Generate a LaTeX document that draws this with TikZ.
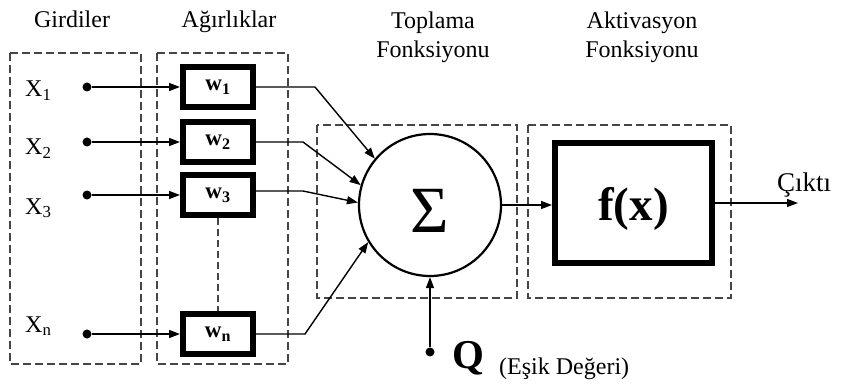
\documentclass[tikz,border=0pt]{standalone}
\usepackage{fontspec}
\setmainfont{Liberation Serif}
\usetikzlibrary{arrows.meta}
\definecolor{dashgray}{HTML}{454545}
\begin{document}
\begin{tikzpicture}[x=1pt,y=-1pt,
  lbl/.style={font=\fontsize{24}{29}\selectfont, inner sep=0pt},
  group/.style={draw=dashgray, line width=2.4pt, dash pattern=on 8pt off 4pt},
  wbox/.style={draw, line width=6pt, minimum width=70pt, minimum height=40pt,
    inner sep=0pt, font=\fontsize{23}{23}\selectfont\bfseries},
  fbox/.style={draw, line width=6pt, minimum width=157pt, minimum height=119pt,
    inner sep=0pt},
  sumnode/.style={draw, circle, line width=2.2pt, minimum size=142pt, inner sep=0pt},
  dot/.style={circle, fill, inner sep=0pt, minimum size=9pt},
  conn/.style={line width=1.4pt, -{Triangle[length=11pt,width=8pt]}},
]
\useasboundingbox (0,0) rectangle (841,385);

% group frames
\draw[group] (10,53) rectangle (141,364);
\draw[group] (157,53) rectangle (288,364);
\draw[group] (317,125) rectangle (517,298);
\draw[group] (528,125) rectangle (731,298);

% headings
\node[lbl, anchor=base] (hin) at (72,28) {Girdiler};
\node[lbl, anchor=base] (hw) at (229,28) {Ağırlıklar};
\node[lbl, anchor=base] (hsum1) at (433,29) {Toplama};
\node[lbl, anchor=base] (hsum2) at (433,58) {Fonksiyonu};
\node[lbl, anchor=base] (hact1) at (642,29) {Aktivasyon};
\node[lbl, anchor=base] (hact2) at (642,58) {Fonksiyonu};

% inputs
\node[lbl, anchor=base west] (x1) at (25,97) {X\textsubscript{1}};
\node[lbl, anchor=base west] (x2) at (25,155) {X\textsubscript{2}};
\node[lbl, anchor=base west] (x3) at (25,214) {X\textsubscript{3}};
\node[lbl, anchor=base west] (xn) at (25,332) {X\textsubscript{n}};
\node[dot] (d1) at (87,87) {};
\node[dot] (d2) at (87,142) {};
\node[dot] (d3) at (87,195) {};
\node[dot] (dn) at (87,334) {};

% weights
\node[wbox] (w1) at (218,87) {w\textsubscript{1}};
\node[wbox] (w2) at (218,142) {w\textsubscript{2}};
\node[wbox] (w3) at (218,195) {w\textsubscript{3}};
\node[wbox] (wn) at (218,334) {w\textsubscript{n}};
\draw[dashgray, line width=2.2pt, dash pattern=on 7pt off 4pt] (w3.south) -- (wn.north);

% summation and activation
\node[sumnode, label={[font=\fontsize{66}{66}\selectfont, yshift=-6pt]center:Σ}] (sum) at (430,205) {};
\node[fbox, label={[font=\fontsize{47}{47}\selectfont\bfseries, yshift=-6pt]center:f(x)}] (f) at (633.5,203) {};

% threshold
\node[dot] (qd) at (430,352) {};
\node[anchor=base west, inner sep=0pt, font=\fontsize{41}{41}\selectfont\bfseries] (q) at (452,368) {Q};
\node[lbl, anchor=base west] (qlbl) at (499,374) {(Eşik Değeri)};

% output
\node[lbl, anchor=base west, font=\fontsize{27}{27}\selectfont] (out) at (777,192) {Çıktı};
\coordinate (outend) at (798,203);

% bends of the weighted lines
\coordinate (b1) at (315,87);
\coordinate (b2) at (303,142);
\coordinate (b3) at (303,191);
\coordinate (bn) at (305,334);

% connectors
\draw[conn] (d1) -- (w1);
\draw[conn] (d2) -- (w2);
\draw[conn] (d3) -- (w3);
\draw[conn] (dn) -- (wn);
\draw[conn] (w1.east) -- (b1) -- (sum.140);
\draw[conn] (w2.east) -- (b2) -- (sum.164);
\draw[conn] (w3.east |- b3) -- (b3) -- (sum.178);
\draw[conn] (wn.east) -- (bn) -- (sum.211);
\draw[conn] (qd) -- (sum.south);
\draw[conn] (sum.east) -- (f.west |- sum.east);
\draw[conn] (f.east) -- (outend);
\end{tikzpicture}
\end{document}
